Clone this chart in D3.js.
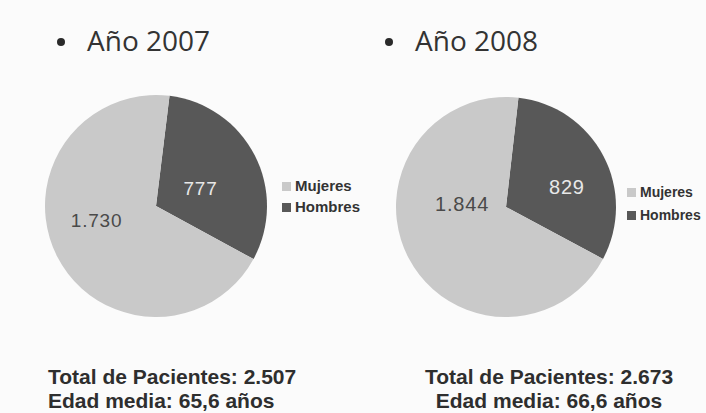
<!DOCTYPE html>
<html>
<head>
<meta charset="utf-8">
<script src="https://cdn.jsdelivr.net/npm/d3@7"></script>
<style>
  html, body { margin: 0; padding: 0; background: #fbfbfb; }
  svg { display: block; }
</style>
</head>
<body>
<svg id="chart" width="706" height="413"></svg>
<script>
// data
var years = ["Año 2007", "Año 2008"];
var categories = ["Hombres", "Mujeres"];
var legendOrder = ["Mujeres", "Hombres"];
var hombres = [777, 829];
var mujeres = [1730, 1844];
var totals = [2507, 2673];
var edadMedia = [65.6, 66.6];

var es = d3.formatLocale({decimal: ",", thousands: ".", grouping: [3], currency: ["", " €"]});
var fmtInt = es.format(",d"),
    fmtAge = es.format(".1f");

var color = d3.scaleOrdinal()
  .domain(categories)
  .range(["#585858", "#c9c9c9"]);

var svg = d3.select("#chart");

// per-chart layout (positions only)
var layout = [
  {cx: 156, cy: 206, r: 111, start: 7, titleX: 61, legendX: 282, legendY: 182, legendGap: 21, legendFont: 15,
   labelFont: 19, labels: {Hombres: [68, 48], Mujeres: [257, 61]},
   footX: 48, footAnchor: "start"},
  {cx: 506, cy: 207, r: 110, start: 6.5, titleX: 389, legendX: 627, legendY: 188, legendGap: 23, legendFont: 14,
   labelFont: 20, labels: {Hombres: [72, 64], Mujeres: [274, 44]},
   footX: 549, footAnchor: "middle"}
];

years.forEach(function(year, i) {
  var L = layout[i];
  var a0 = L.start * Math.PI / 180;
  var values = [{k: "Hombres", v: hombres[i]}, {k: "Mujeres", v: mujeres[i]}];

  var pie = d3.pie()
    .sort(null)
    .value(function(d) { return d.v; })
    .startAngle(a0)
    .endAngle(a0 + 2 * Math.PI);

  var arc = d3.arc().innerRadius(0).outerRadius(L.r);

  var g = svg.append("g").attr("class", "pie")
    .attr("transform", "translate(" + L.cx + "," + L.cy + ")");

  g.selectAll("path")
    .data(pie(values))
    .enter().append("path")
    .attr("d", arc)
    .attr("fill", function(d) { return color(d.data.k); });

  g.selectAll("text.val")
    .data(pie(values))
    .enter().append("text")
    .attr("class", "val")
    .attr("transform", function(d) {
      var p = d3.pointRadial(L.labels[d.data.k][0] * Math.PI / 180, L.labels[d.data.k][1]);
      return "translate(" + p[0] + "," + p[1] + ")";
    })
    .attr("text-anchor", "middle")
    .attr("dy", "0.36em")
    .attr("font-family", "Liberation Sans, Arial, sans-serif")
    .attr("font-size", L.labelFont)
    .attr("letter-spacing", 0.8)
    .attr("fill", function(d) { return d.data.k == "Hombres" ? "#e8e8e8" : "#4a4a4a"; })
    .text(function(d) { return fmtInt(d.data.v); });

  // title with bullet
  svg.append("circle")
    .attr("cx", L.titleX).attr("cy", 42).attr("r", 4)
    .attr("fill", "#2a2a2a");
  svg.append("text")
    .attr("x", L.titleX + 26).attr("y", 51)
    .attr("font-family", "Open Sans, sans-serif")
    .attr("font-size", 28)
    .attr("fill", "#333")
    .text(year);

  // legend
  var lg = svg.append("g").attr("class", "legend")
    .attr("transform", "translate(" + L.legendX + "," + L.legendY + ")");
  var item = lg.selectAll("g")
    .data(legendOrder)
    .enter().append("g")
    .attr("transform", function(d, j) { return "translate(0," + j * L.legendGap + ")"; });
  item.append("rect")
    .attr("width", 9).attr("height", 9)
    .attr("fill", function(d) { return color(d); });
  item.append("text")
    .attr("x", 13).attr("y", 9)
    .attr("font-family", "Liberation Sans, Arial, sans-serif")
    .attr("font-weight", "bold")
    .attr("font-size", L.legendFont)
    .attr("fill", "#333")
    .text(function(d) { return d; });

  // footnote
  var foot = svg.append("text")
    .attr("font-family", "Liberation Sans, Arial, sans-serif")
    .attr("font-weight", "bold")
    .attr("font-size", 21)
    .attr("fill", "#2e2e2e")
    .attr("text-anchor", L.footAnchor);
  foot.append("tspan").attr("x", L.footX).attr("y", 384)
    .text("Total de Pacientes: " + fmtInt(totals[i]));
  foot.append("tspan").attr("x", L.footX).attr("y", 408)
    .text("Edad media: " + fmtAge(edadMedia[i]) + " años");
});
</script>
</body>
</html>
